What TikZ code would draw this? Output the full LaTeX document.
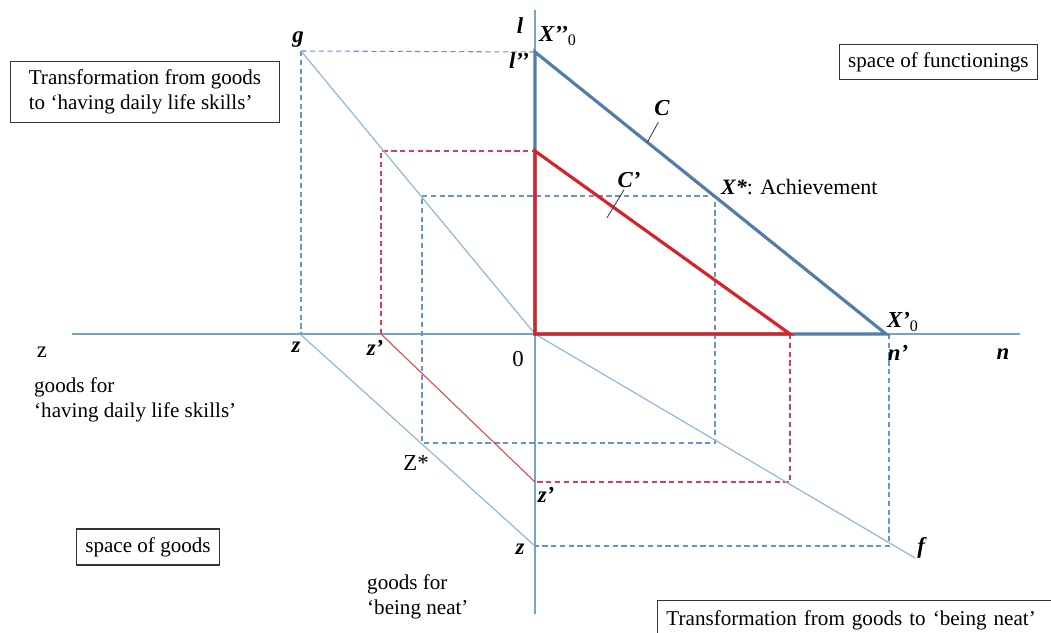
\documentclass[tikz,border=0pt]{standalone}
\usepackage{fontspec}
\setmainfont{Liberation Serif}
\usepackage{tikz}
\usetikzlibrary{arrows.meta,positioning,calc}
\definecolor{axisblue}{RGB}{115,165,200}
\definecolor{frontier}{RGB}{80,125,170}
\definecolor{convred}{RGB}{215,35,40}
\definecolor{guideblue}{RGB}{105,145,205}
\definecolor{guidered}{RGB}{220,60,85}
\definecolor{transblue}{RGB}{145,185,220}
\newcommand{\varlab}[1]{\textbf{\textit{#1}}}

\begin{document}
\begin{tikzpicture}[
    x=0.02cm, y=-0.02cm,
    axis/.style={draw=axisblue, line width=0.7pt},
    budget/.style={draw=frontier, line width=1.8pt, line join=miter},
    reduced/.style={draw=convred, line width=1.8pt, line join=miter},
    transf/.style={draw=transblue, line width=0.7pt},
    convline/.style={draw=convred!85, line width=0.6pt},
    guide/.style={draw=guideblue, line width=0.6pt, dash pattern=on 3pt off 2pt},
    guidered/.style={draw=guidered, line width=0.6pt, dash pattern=on 3pt off 2pt},
    pointer/.style={draw=black!75, line width=0.5pt},
    caption/.style={
      rectangle,
      draw=black!80,
      line width=0.8pt,
      align=left,
      inner xsep=5pt,
      font=\fontsize{12}{14.5}\selectfont
    },
    note/.style={align=left, font=\fontsize{12}{14.5}\selectfont},
    var/.style={inner sep=1pt, font=\fontsize{13}{15}\selectfont}
  ]
    \useasboundingbox (0,0) rectangle (1051,632);

    % points of the figure
    \coordinate (O) at (535,334);
    \coordinate (zleft) at (72,334);
    \coordinate (nright) at (1020,334);
    \coordinate (ltop) at (535,10);
    \coordinate (zbottom) at (535,614);
    \coordinate (lpp) at (535,52);
    \coordinate (Xp0) at (886,334);
    \coordinate (redtop) at (535,151);
    \coordinate (redright) at (790,334);
    \coordinate (Xstar) at (715,196);
    \coordinate (gpt) at (301,51);
    \coordinate (gfoot) at (301,334);
    \coordinate (zax) at (300,334);
    \coordinate (zdown) at (535,546);
    \coordinate (fpt) at (915,558);
    \coordinate (fcorner) at (889,546);
    \coordinate (nfoot) at (889,334);
    \coordinate (zpax) at (381,334);
    \coordinate (zpup) at (381,151);
    \coordinate (zpdown) at (535,482);
    \coordinate (redcorner) at (790,482);
    \coordinate (Zstar) at (422,443);
    \coordinate (Zup) at (422,196);
    \coordinate (Xdown) at (715,443);

    % axes
    \draw[axis] (zleft) -- (nright);
    \draw[axis] (ltop) -- (zbottom);

    % dashed guides
    \draw[guide] (gpt) -- (lpp);
    \draw[guide] (gpt) -- (gfoot);
    \draw[guide] (Zup) -- (Xstar) -- (Xdown) -- (Zstar) -- cycle;
    \draw[guide] (nfoot) -- (fcorner) -- (zdown);
    \draw[guidered] (zpax) -- (zpup) -- (redtop);
    \draw[guidered] (redright) -- (redcorner) -- (zpdown);

    % transformation lines
    \draw[transf] (gpt) -- (O);
    \draw[transf] (O) -- (fpt);
    \draw[transf] (zax) -- (zdown);
    \draw[convline] (zpax) -- (zpdown);

    % capability sets
    \draw[budget] (lpp) -- (O) -- (Xp0) -- cycle;
    \draw[reduced] (redtop) -- (O) -- (redright) -- cycle;

    % labels of points
    \node[var] (glab) at (298,40) {\varlab{g}};
    \node[var] (llab) at (520,26) {\varlab{l}};
    \node[var, anchor=west] (Xpplab) at (537,36) {\varlab{X’{}’}\textsubscript{0}};
    \node[var] (lpplab) at (519,61) {\varlab{l’{}’}};
    \node[var] (Clab) at (662,108) {\varlab{C}};
    \node[var] (Cplab) at (629,180) {\varlab{C’}};
    \node[var, anchor=west, font=\fontsize{12.5}{15}\selectfont] (Xslab) at (719,187) {\varlab{X*}: Achievement};
    \node[var, anchor=west] (Xp0lab) at (885,322) {\varlab{X’}\textsubscript{0}};
    \node[var] (nplab) at (898,353) {\varlab{n'}};
    \node[var] (nlab) at (1003,354) {\varlab{n}};
    \node[var] (zname) at (42,352) {z};
    \node[var] (zlab) at (296,347) {\varlab{z}};
    \node[var] (zplab) at (375,348) {\varlab{z’}};
    \node[var] (olab) at (518,359) {0};
    \node[var] (Zslab) at (416,463) {Z*};
    \node[var] (zpdlab) at (546,495) {\varlab{z’}};
    \node[var] (zdlab) at (520,549) {\varlab{z}};
    \node[var] (flab) at (922,548) {\varlab{f}};

    \draw[pointer] ($(lpp)!0.32!(Xp0)$) -- ++(11,-20);
    \draw[pointer] ($(redtop)!0.31!(redright)$) ++(-7,10) -- ++(17,-28);

    % axis texts
    \node[note, anchor=west] (goodsl) at (28,400) {goods for\\‘having daily life skills’};
    \node[note, anchor=west] (goodsn) at (361,597) {goods for\\‘being neat’};

    % boxed captions
    \node[caption, minimum width=5.38cm, minimum height=1.22cm] (transl) at (145,92)
      {Transformation from goods\\to ‘having daily life skills’};
    \node[caption, anchor=east, minimum height=0.7cm] (funcspace) at (1038,62) {space of functionings};
    \node[caption, minimum height=0.72cm] (goodspace) at (148,547) {space of goods};
    \node[caption, anchor=north west, text width=8cm, minimum height=0.8cm] (transn) at (657,600)
      {Transformation from goods to ‘being neat’};
\end{tikzpicture}
\end{document}
